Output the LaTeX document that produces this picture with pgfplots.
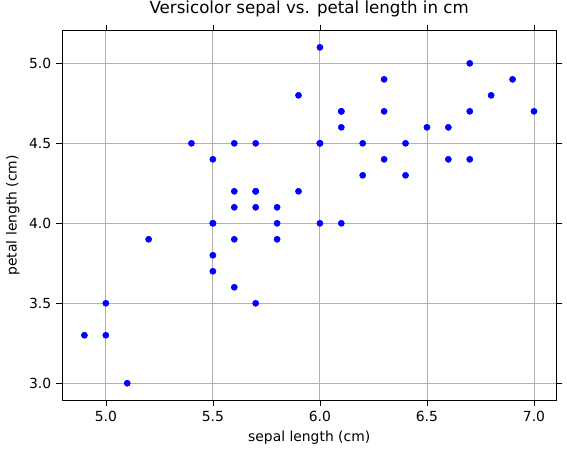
\documentclass[border=0pt]{standalone}
\usepackage{fontspec}
\setmainfont{DejaVu Sans}
\usepackage{pgfplots}
\pgfplotsset{compat=1.18}
\begin{document}
\begin{tikzpicture}
\useasboundingbox (-44.6pt,-38pt) rectangle (363.6pt,288pt);
\begin{axis}[
  at={(0,0)}, anchor=south west,
  width=356pt, height=266pt, scale only axis,
  xmin=4.795, xmax=7.105, ymin=2.895, ymax=5.205,
  xtick={5.0,5.5,6.0,6.5,7.0}, ytick={3.0,3.5,4.0,4.5,5.0},
  /pgf/number format/.cd, fixed, fixed zerofill, precision=1, assume math mode=true, /pgfplots/.cd,
  grid=major, grid style={gray!60, line width=0.6pt},
  tick style={black}, tick align=outside,
  ticklabel style={font=\fontsize{10}{12}\selectfont},
  xlabel={sepal length (cm)}, ylabel={petal length (cm)},
  label style={font=\fontsize{10}{12}\selectfont},
  title={Versicolor sepal vs. petal length in cm},
  title style={font=\fontsize{12}{14}\selectfont},
]
\addplot[only marks, mark=*, mark size=2.2pt, blue, mark options={fill=blue, draw=blue}] coordinates {
(7.0,4.7)(6.4,4.5)(6.9,4.9)(5.5,4.0)(6.5,4.6)(5.7,4.5)(6.3,4.7)(4.9,3.3)(6.6,4.6)(5.2,3.9)
(5.0,3.5)(5.9,4.2)(6.0,4.0)(6.1,4.7)(5.6,3.6)(6.7,4.4)(5.6,4.5)(5.8,4.1)(6.2,4.5)(5.6,3.9)
(5.9,4.8)(6.1,4.0)(6.3,4.9)(6.1,4.7)(6.4,4.3)(6.6,4.4)(6.8,4.8)(6.7,5.0)(6.0,4.5)(5.7,3.5)
(5.5,3.8)(5.5,3.7)(5.8,3.9)(6.0,5.1)(5.4,4.5)(6.0,4.5)(6.7,4.7)(6.3,4.4)(5.6,4.1)(5.5,4.0)
(5.5,4.4)(6.1,4.6)(5.8,4.0)(5.0,3.3)(5.6,4.2)(5.7,4.2)(5.7,4.2)(6.2,4.3)(5.1,3.0)(5.7,4.1)
};
\end{axis}
\end{tikzpicture}
\end{document}
